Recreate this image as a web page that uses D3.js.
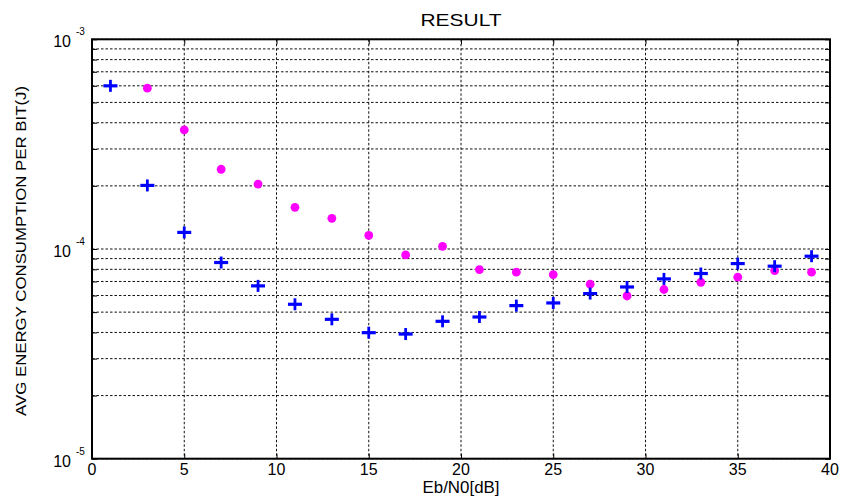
<!DOCTYPE html>
<html><head><meta charset="utf-8">
<script src="https://cdn.jsdelivr.net/npm/d3@7"></script>
<style>body{margin:0;background:#fff}text{font-family:Arial,"Liberation Sans",sans-serif}</style>
</head><body>
<svg id="c" width="841" height="501"></svg>
<script>
const xValues = [1,3,5,7,9,11,13,15,17,19,21,23,25,27,29,31,33,35,37,39];
const blueSeries = [6.0e-4,2.01e-4,1.20e-4,8.62e-5,6.67e-5,5.45e-5,4.62e-5,3.99e-5,3.93e-5,4.52e-5,4.74e-5,5.37e-5,5.53e-5,6.13e-5,6.59e-5,7.20e-5,7.64e-5,8.52e-5,8.28e-5,9.24e-5];
const magentaX = [3,5,7,9,11,13,15,17,19,21,23,25,27,29,31,33,35,37,39];
const magentaSeries = [5.85e-4,3.70e-4,2.40e-4,2.04e-4,1.58e-4,1.40e-4,1.16e-4,9.37e-5,1.03e-4,7.98e-5,7.75e-5,7.55e-5,6.79e-5,5.97e-5,6.41e-5,6.94e-5,7.34e-5,7.89e-5,7.75e-5];
const xTicks = [0,5,10,15,20,25,30,35,40];
const yMajor = [1e-5,1e-4,1e-3];
const yMajorExp = ["-5","-4","-3"];
const titleText = "RESULT";
const xLabel = "Eb/N0[dB]";
const yLabel = "AVG ENERGY CONSUMPTION PER BIT(J)";

const svg = d3.select("#c");
const L=92, R=830, T=39.3, B=458.7;
const x = d3.scaleLinear().domain([0,40]).range([L,R]);
const y = d3.scaleLog().domain([1e-5,1e-3]).range([B,T]);

const minor = [];
for (let d of [1e-5,1e-4]) for (let k=2;k<=9;k++) minor.push(k*d);
const allY = minor.concat(yMajor);

const g = svg.append("g");
g.selectAll(".hg").data(allY).join("line")
  .attr("x1",L).attr("x2",R).attr("y1",d=>y(d)).attr("y2",d=>y(d))
  .attr("stroke","#111").attr("stroke-width",1).attr("stroke-dasharray","2.5,2");
g.selectAll(".vg").data(xTicks.slice(1,-1)).join("line")
  .attr("x1",d=>x(d)).attr("x2",d=>x(d)).attr("y1",T).attr("y2",B)
  .attr("stroke","#111").attr("stroke-width",1).attr("stroke-dasharray","2.5,2");

const axL = d3.axisLeft(y).tickValues(allY).tickSize(-5).tickFormat("");
const axR = d3.axisRight(y).tickValues(allY).tickSize(-5).tickFormat("");
const axB = d3.axisBottom(x).tickValues(xTicks).tickSize(-5).tickFormat("");
const axT = d3.axisTop(x).tickValues(xTicks).tickSize(-5).tickFormat("");
[[axL,`translate(${L},0)`],[axR,`translate(${R},0)`],[axB,`translate(0,${B})`],[axT,`translate(0,${T})`]].forEach(([a,t])=>{
  const s = svg.append("g").attr("transform",t).call(a);
  s.select(".domain").remove();
  s.selectAll("line").attr("stroke","#000").attr("stroke-width",1);
});
svg.append("rect").attr("x",L).attr("y",T).attr("width",R-L).attr("height",B-T)
  .attr("fill","none").attr("stroke","#000").attr("stroke-width",2);

svg.selectAll(".xl").data(xTicks).join("text")
  .attr("x",d=>x(d)).attr("y",B+16).attr("text-anchor","middle")
  .attr("font-size",16).text(d=>d);
yMajor.forEach((v,i)=>{
  svg.append("text").attr("x",71).attr("y",y(v)+8).attr("text-anchor","end")
    .attr("font-size",16).text("10");
  svg.append("text").attr("x",76).attr("y",y(v)-4).attr("text-anchor","start")
    .attr("font-size",10).text(yMajorExp[i]);
});

svg.append("text").attr("x",(L+R)/2).attr("y",26).attr("text-anchor","middle")
  .attr("font-size",17).attr("textLength",81).attr("lengthAdjust","spacingAndGlyphs").text(titleText);
svg.append("text").attr("x",(L+R)/2).attr("y",493).attr("text-anchor","middle")
  .attr("font-size",17).attr("textLength",77).attr("lengthAdjust","spacingAndGlyphs").text(xLabel);
svg.append("text").attr("transform",`translate(26,${(T+B)/2+2}) rotate(-90)`)
  .attr("text-anchor","middle").attr("font-size",15)
  .attr("textLength",330).attr("lengthAdjust","spacingAndGlyphs").text(yLabel);

svg.selectAll(".m").data(magentaX.map((d,i)=>[d,magentaSeries[i]])).join("circle")
  .attr("cx",d=>x(d[0])).attr("cy",d=>y(d[1])).attr("r",4.4).attr("fill","#ff00ff");
const bp = svg.selectAll(".b").data(xValues.map((d,i)=>[d,blueSeries[i]])).join("g")
  .attr("transform",d=>`translate(${x(d[0])},${y(d[1])})`);
bp.append("line").attr("x1",-7).attr("x2",7).attr("y1",0).attr("y2",0).attr("stroke","#0000ff").attr("stroke-width",3.2);
bp.append("line").attr("x1",0).attr("x2",0).attr("y1",-6).attr("y2",6).attr("stroke","#0000ff").attr("stroke-width",2.8);
</script>
</body></html>
